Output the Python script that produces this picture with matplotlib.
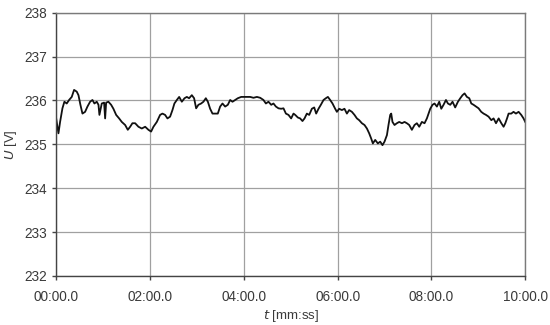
import numpy as np
import matplotlib.pyplot as plt
from matplotlib.ticker import FuncFormatter, MultipleLocator

plt.rcParams['font.family'] = ['Liberation Sans', 'DejaVu Sans']

# time in seconds, voltage in V
t_s = [0, 3.0, 5.1, 8.1, 10.6, 13.6, 16.6, 20.0, 23.0, 26.4, 28.6, 31.1, 33.7, 37.1,
       40.1, 43.5, 46.5, 49.0, 52.0, 54.2, 55.4, 58.4, 61.4, 62.7, 64.0, 66.9, 70.4,
       73.3, 76.8, 80.6, 84.0, 88.3, 91.7, 94.7, 97.6, 101.1, 105.3, 109.6, 113.9,
       118.1, 121.5, 124.5, 128.8, 133.0, 136.0, 139.4, 142.4, 145.8, 148.8, 151.3,
       154.4, 157.4, 160.8, 164.2, 167.2, 170.1, 173.6, 176.5, 179.1, 182.0, 185.5,
       188.4, 191.5, 194.1, 197.0, 200.0, 203.4, 206.8, 209.8, 212.8, 216.2, 219.6,
       222.6, 225.6, 229.0, 232.4, 236.7, 240.5, 244.0, 248.2, 252.4, 256.8, 261.0,
       265.2, 268.3, 271.6, 275.1, 278.0, 281.1, 284.4, 287.8, 290.8, 293.9, 297.2,
       300.6, 303.6, 305.8, 309.2, 312.1, 315.1, 317.7, 320.7, 323.7, 327.1, 330.1,
       332.6, 335.6, 338.6, 342.0, 345.0, 347.6, 350.5, 353.5, 356.9, 359.1, 362.0,
       365.5, 368.8, 371.9, 374.8, 378.3, 381.6, 384.7, 387.6, 391.1, 394.4, 397.5,
       400.4, 403.0, 405.1, 408.1, 411.5, 414.5, 417.4, 420.0, 423.1, 425.1, 427.3,
       428.6, 430.2, 432.8, 435.8, 438.8, 442.3, 445.6, 448.6, 451.6, 455.0, 458.4,
       461.4, 464.4, 467.8, 471.2, 474.2, 476.3, 478.5, 481.4, 484.0, 487.0, 490.0,
       492.6, 495.5, 498.6, 501.1, 504.1, 507.0, 510.4, 513.9, 516.9, 519.8, 522.4,
       525.4, 528.4, 531.0, 533.9, 537.0, 540.3, 543.7, 546.7, 549.8, 553.1, 556.6,
       559.5, 562.6, 566.0, 569.4, 572.3, 574.5, 576.7, 578.7, 582.1, 585.0, 588.1,
       591.5, 594.9, 597.8, 600.0]
u_v = [235.60, 235.25, 235.51, 235.82, 235.97, 235.93, 236.01, 236.08, 236.24, 236.20,
       236.12, 235.90, 235.70, 235.74, 235.86, 235.97, 236.01, 235.93, 235.97, 235.90,
       235.67, 235.93, 235.95, 235.59, 235.95, 235.97, 235.90, 235.81, 235.67, 235.59,
       235.51, 235.44, 235.33, 235.40, 235.48, 235.48, 235.40, 235.36, 235.40, 235.33,
       235.29, 235.40, 235.51, 235.67, 235.70, 235.67, 235.59, 235.63, 235.78, 235.93,
       236.01, 236.08, 235.97, 236.05, 236.08, 236.05, 236.12, 236.05, 235.82, 235.90,
       235.93, 235.97, 236.05, 235.97, 235.81, 235.70, 235.70, 235.70, 235.86, 235.93,
       235.86, 235.90, 236.01, 235.97, 236.01, 236.05, 236.08, 236.08, 236.08, 236.08,
       236.06, 236.08, 236.06, 236.01, 235.93, 235.97, 235.90, 235.93, 235.86, 235.82,
       235.81, 235.82, 235.70, 235.67, 235.59, 235.70, 235.67, 235.61, 235.59, 235.53,
       235.59, 235.70, 235.67, 235.81, 235.84, 235.70, 235.81, 235.90, 236.01, 236.05,
       236.08, 236.01, 235.93, 235.81, 235.74, 235.81, 235.78, 235.81, 235.70, 235.78,
       235.74, 235.67, 235.59, 235.55, 235.48, 235.44, 235.36, 235.25, 235.13, 235.02,
       235.10, 235.02, 235.06, 234.98, 235.06, 235.21, 235.44, 235.67, 235.70, 235.51,
       235.44, 235.48, 235.51, 235.48, 235.51, 235.48, 235.44, 235.33, 235.44, 235.48,
       235.40, 235.51, 235.48, 235.59, 235.70, 235.81, 235.90, 235.93, 235.86, 235.97,
       235.81, 235.90, 236.01, 235.93, 235.90, 235.97, 235.84, 235.97, 236.05, 236.12,
       236.16, 236.08, 236.05, 235.93, 235.90, 235.86, 235.82, 235.74, 235.70, 235.67,
       235.63, 235.55, 235.59, 235.48, 235.59, 235.48, 235.40, 235.48, 235.59, 235.70,
       235.70, 235.74, 235.70, 235.74, 235.67, 235.59, 235.51]


def mmss(x, pos):
    m = int(x // 60)
    s = x - m * 60
    return '%02d:%04.1f' % (m, s)


fig = plt.figure(figsize=(5.5, 3.25), dpi=100)
ax = fig.add_axes([0.102, 0.151, 0.853, 0.810])

ax.plot(t_s, u_v, color='#111111', lw=1.3)

ax.set_xlim(0, 600)
ax.set_ylim(232, 238)
ax.xaxis.set_major_locator(MultipleLocator(120))
ax.yaxis.set_major_locator(MultipleLocator(1))
ax.xaxis.set_major_formatter(FuncFormatter(mmss))

ax.grid(True, color='#a0a0a0', lw=0.9)
ax.set_axisbelow(True)
for sp in ['left', 'bottom']:
    ax.spines[sp].set_color('#444444')
    ax.spines[sp].set_linewidth(1.0)
for sp in ['top', 'right']:
    ax.spines[sp].set_color('#7a7a7a')
    ax.spines[sp].set_linewidth(1.0)

ax.tick_params(axis='both', labelsize=9.8, colors='#444444', labelcolor='#3a3a3a',
               length=3, width=1)
ax.tick_params(axis='x', pad=7)

ax.set_xlabel(r'$\it{t}$ [mm:ss]', fontsize=9.5, color='#3a3a3a', labelpad=3)
ax.set_ylabel(r'$\it{U}$ [V]', fontsize=9.5, color='#3a3a3a', labelpad=4)

fig.savefig('out.png', dpi=100)
